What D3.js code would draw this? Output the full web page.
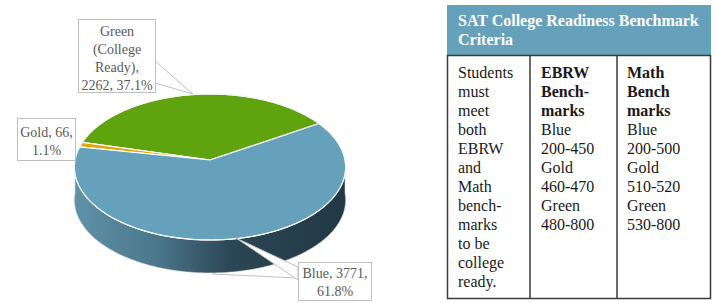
<!DOCTYPE html>
<html><head><meta charset="utf-8">
<script src="https://cdn.jsdelivr.net/npm/d3@7"></script>
<style>body{margin:0;background:#fff}svg{display:block}</style>
</head><body>
<svg id="c" width="717" height="303"></svg>
<script>
// ---- data ----
const categories = ["Green", "Gold", "Blue"];
const categoryNotes = ["(College Ready)", "", ""];
const counts = [2262, 66, 3771];
const percentLabels = ["37.1%", "1.1%", "61.8%"];
const sliceColors = ["#5fa30f", "#e2a507", "#66a1bc"];
const tableTitle = ["SAT College Readiness Benchmark", "Criteria"];
const col1 = ["Students","must","meet","both","EBRW","and","Math","bench-","marks","to be","college","ready."];
const col2Head = ["EBRW","Bench-","marks"];
const col2 = ["Blue","200-450","Gold","460-470","Green","480-800"];
const col3Head = ["Math","Bench","marks"];
const col3 = ["Blue","200-500","Gold","510-520","Green","530-800"];

// label line breaking (layout)
const labelLines = [
  [categories[0], "(College", "Ready),", `${counts[0]}, ${percentLabels[0]}`],
  [`${categories[1]}, ${counts[1]},`, percentLabels[1]],
  [`${categories[2]}, ${counts[2]},`, percentLabels[2]]
];

const svg = d3.select("#c");
const defs = svg.append("defs");
const serif = "'Liberation Serif','Times New Roman',serif";

// ---- 3D pie ----
const cx = 210, cy = 160, R = 135, RY = 72.3, K = 0.096, depth = 33;
const phi0 = 32 * Math.PI / 180;
function proj(phi, dy = 0) {
  const s = Math.sin(phi), c = Math.cos(phi), f = 1 / (1 + K * s);
  return [cx + R * c * f, cy - RY * s * f + dy];
}
function samples(a0, a1, dy = 0) {
  const n = Math.max(2, Math.ceil(Math.abs(a1 - a0) / (Math.PI / 180)));
  return d3.range(n + 1).map(i => proj(a0 + (a1 - a0) * i / n, dy));
}
const arcs = d3.pie().sort(null).value(d => d)(counts);
const line = d3.line();

const grad = defs.append("linearGradient").attr("id", "side")
  .attr("gradientUnits", "userSpaceOnUse")
  .attr("x1", cx - R).attr("x2", cx + R).attr("y1", 0).attr("y2", 0);
[[0, "#5f92aa"], [0.3, "#4b778b"], [0.58, "#2b4654"], [1, "#213945"]]
  .forEach(([o, c]) => grad.append("stop").attr("offset", o).attr("stop-color", c));

// side (front half, all in Blue slice)
const topPts = samples(Math.PI, 2 * Math.PI);
const botPts = samples(2 * Math.PI, Math.PI, depth);
svg.append("path").attr("d", line(topPts.concat(botPts)) + "Z")
  .attr("fill", "url(#side)").attr("stroke", "#d9d9d9").attr("stroke-width", 0.6);

// top face slices
svg.append("g").selectAll("path").data(arcs).join("path")
  .attr("d", d => line([[cx, cy]].concat(samples(phi0 + d.startAngle, phi0 + d.endAngle))) + "Z")
  .attr("fill", (d, i) => sliceColors[i])
  .attr("stroke", "#ffffff").attr("stroke-width", 1.2).attr("stroke-linejoin", "round");

// rim outline
svg.append("path").attr("d", line(samples(0, 2 * Math.PI)) + "Z")
  .attr("fill", "none").attr("stroke", "#f2f2f2").attr("stroke-width", 1);

// ---- callout labels ----
const boxes = [
  {x: 78, y: 19, w: 77, h: 73, tip: [193, 94], base: [[155, 61], [155, 83]], y0: 36},
  {x: 17, y: 118, w: 58, h: 42, tip: null, y0: 137},
  {x: 298, y: 262, w: 73, h: 38, tip: [236, 238], base: [[298, 267], [298, 280]], y0: 278}
];
// faint lower leader edge of the Blue callout
svg.append("path").attr("d", line([[212, 274], [298, 278]]))
  .attr("fill", "none").attr("stroke", "#bfbfbf").attr("stroke-width", 1);
boxes.forEach((b, i) => {
  const g = svg.append("g");
  if (b.tip) {
    g.append("path").attr("d", line([b.base[0], b.tip, b.base[1]]) + "Z")
      .attr("fill", "#fff").attr("stroke", "#bfbfbf").attr("stroke-width", 1);
  }
  g.append("rect").attr("x", b.x + 0.5).attr("y", b.y + 0.5).attr("width", b.w).attr("height", b.h)
    .attr("fill", "#fff").attr("stroke", "#bfbfbf").attr("stroke-width", 1);
  g.selectAll("text").data(labelLines[i]).join("text")
    .attr("x", b.x + b.w / 2 + 0.5).attr("y", (d, j) => b.y0 + j * 18)
    .attr("text-anchor", "middle").attr("font-family", serif).attr("font-size", 14)
    .attr("fill", "#595959").text(d => d);
});

// ---- table ----
const tx = 447, tw = 264, hy = 5, hh = 50, by = 55, bb = 298;
const colX = [447, 530, 617, 711];
svg.append("rect").attr("x", tx).attr("y", hy).attr("width", tw).attr("height", hh).attr("fill", "#66a1bb");
svg.selectAll("text.title").data(tableTitle).join("text").attr("class", "title")
  .attr("x", 458).attr("y", (d, i) => 26 + i * 19)
  .attr("font-family", serif).attr("font-size", 16).attr("font-weight", "bold")
  .attr("fill", "#ffffff").text(d => d);

const border = svg.append("g").attr("stroke", "#3a3a3a").attr("stroke-width", 1.5).attr("fill", "none");
border.append("rect").attr("x", colX[0] + 0.5).attr("y", by + 0.5).attr("width", colX[3] - colX[0] - 1).attr("height", bb - by);
border.append("line").attr("x1", colX[1]).attr("x2", colX[1]).attr("y1", by).attr("y2", bb + 0.5);
border.append("line").attr("x1", colX[2]).attr("x2", colX[2]).attr("y1", by).attr("y2", bb + 0.5);

function column(x, head, body) {
  const rows = head.map(t => ({t, b: true})).concat(body.map(t => ({t, b: false})));
  svg.append("g").selectAll("text").data(rows).join("text")
    .attr("x", x).attr("y", (d, i) => 78 + i * 19)
    .attr("font-family", serif).attr("font-size", 16)
    .attr("font-weight", d => d.b ? "bold" : "normal")
    .attr("fill", "#1a1a1a").text(d => d.t);
}
column(458, [], col1);
column(541, col2Head, col2);
column(627, col3Head, col3);
</script>
</body></html>
